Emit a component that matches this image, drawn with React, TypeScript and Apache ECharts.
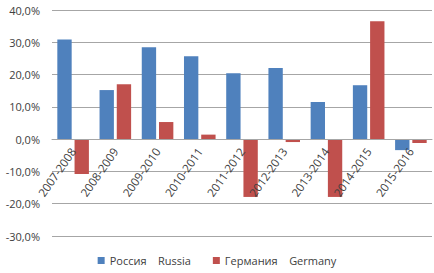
import React, { useEffect, useRef } from "react";
import * as echarts from "echarts";

const categories = ["2007-2008", "2008-2009", "2009-2010", "2010-2011", "2011-2012", "2012-2013", "2013-2014", "2014-2015", "2015-2016"];
const russia = [30.9, 15.2, 28.5, 25.7, 20.4, 22.0, 11.5, 16.7, -3.4];
const germany = [-10.8, 17.0, 5.3, 1.4, -17.9, -0.9, -17.9, 36.5, -1.2];
const seriesNames = ["Россия    Russia", "Германия    Germany"];
const yMin = -30;
const yMax = 40;

export default function App() {
  const ref = useRef<HTMLDivElement>(null);
  useEffect(() => {
    document.body.style.margin = "0";
    const chart = echarts.init(ref.current!, null, { renderer: "svg" });
    const font = "'Open Sans', 'Liberation Sans', sans-serif";
    const gridTop = 10;
    const gridBottom = 37;
    const plotH = 273 - gridTop - gridBottom;
    const zeroOffset = -(plotH * (0 - yMin)) / (yMax - yMin);
    chart.setOption({
      animation: false,
      textStyle: { fontFamily: font },
      grid: { left: 52, right: 2, top: gridTop, bottom: gridBottom, containLabel: false },
      legend: {
        bottom: 2,
        left: "center",
        itemWidth: 7,
        itemHeight: 7,
        itemGap: 22,
        icon: "rect",
        textStyle: { fontSize: 11, color: "#404040", fontFamily: font },
        data: seriesNames,
      },
      xAxis: {
        type: "category",
        data: categories,
        position: "bottom",
        offset: zeroOffset,
        axisLine: { show: true, onZero: false, lineStyle: { color: "#a6a6a6" } },
        axisTick: { show: false },
        axisLabel: { rotate: 55, fontSize: 11.5, color: "#404040", margin: 10, interval: 0, fontFamily: font, hideOverlap: false },
        z: 10,
      },
      yAxis: {
        type: "value",
        min: yMin,
        max: yMax,
        interval: 10,
        axisLine: { show: false },
        axisTick: { show: false },
        splitLine: { lineStyle: { color: "#a6a6a6", width: 1 } },
        axisLabel: {
          fontSize: 11,
          color: "#404040",
          margin: 12,
          fontFamily: font,
          formatter: (v: number) => v.toFixed(1).replace(".", ",") + "%",
        },
      },
      series: [
        { name: seriesNames[0], type: "bar", data: russia, barWidth: "34%", barGap: "20%", itemStyle: { color: "#4f81bd" }, z: 2 },
        { name: seriesNames[1], type: "bar", data: germany, barWidth: "34%", barGap: "20%", itemStyle: { color: "#c0504d" }, z: 2 },
      ],
    });
    return () => chart.dispose();
  }, []);
  return <div ref={ref} style={{ width: 434, height: 273, position: "absolute", left: 0, top: 0 }} />;
}
